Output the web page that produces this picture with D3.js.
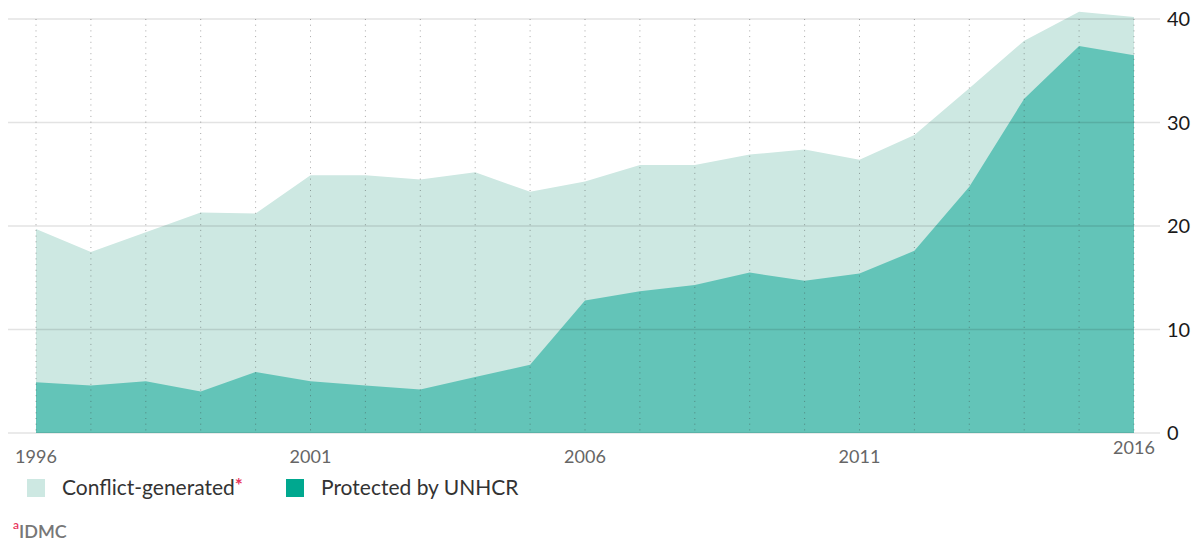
<!DOCTYPE html>
<html>
<head>
<meta charset="utf-8">
<script src="https://cdn.jsdelivr.net/npm/d3@7"></script>
<style>
  html, body { margin: 0; padding: 0; background: #fff; }
  svg { display: block; font-family: Lato, "Open Sans", sans-serif; }
</style>
</head>
<body>
<svg id="chart" width="1199" height="545"></svg>
<script>
const years = d3.range(1996, 2017);
const conflictGenerated = [19.7, 17.5, 19.4, 21.3, 21.2, 24.9, 24.9, 24.5, 25.2, 23.3, 24.3, 25.9, 25.9, 26.9, 27.4, 26.4, 28.8, 33.3, 37.9, 40.7, 40.2];
const protectedByUNHCR = [4.9, 4.6, 5.0, 4.0, 5.9, 5.0, 4.6, 4.2, 5.4, 6.6, 12.8, 13.7, 14.3, 15.5, 14.7, 15.4, 17.6, 23.8, 32.3, 37.4, 36.5];
const yTicks = [0, 10, 20, 30, 40];
const xTickLabels = [1996, 2001, 2006, 2011, 2016];
const seriesNames = ["Conflict-generated", "Protected by UNHCR"];
const seriesColors = ["#cde8e2", "#00a88f"];
const areaColors = ["#cde8e2", "#63c4b8"];

const svg = d3.select("#chart");
const x = d3.scaleLinear().domain([1996, 2016]).range([36, 1134]);
const y = d3.scaleLinear().domain([0, 40]).range([433, 19]);

const area = vals => d3.area()
  .x((d, i) => x(years[i]))
  .y0(y(0))
  .y1(d => y(d))(vals);

svg.append("path").attr("d", area(conflictGenerated)).attr("fill", areaColors[0]);
svg.append("path").attr("d", area(protectedByUNHCR)).attr("fill", areaColors[1]);

// horizontal grid
svg.append("g").selectAll("line").data(yTicks).join("line")
  .attr("x1", 8).attr("x2", 1160)
  .attr("y1", d => y(d)).attr("y2", d => y(d))
  .attr("stroke", "rgba(0,0,0,0.11)").attr("stroke-width", 1.5);

// vertical dotted lines
svg.append("g").selectAll("line").data(years).join("line")
  .attr("x1", d => x(d)).attr("x2", d => x(d))
  .attr("y1", y(40)).attr("y2", y(0))
  .attr("stroke", "rgba(60,60,60,0.45)").attr("stroke-width", 1)
  .attr("stroke-dasharray", "1,4.7");

// y labels
svg.append("g").selectAll("text").data(yTicks).join("text")
  .attr("x", 1167).attr("y", d => y(d))
  .attr("dy", "0.35em")
  .attr("font-size", 20).attr("fill", "#1a1a1a")
  .text(d => d);

// x labels
svg.append("g").selectAll("text").data(xTickLabels).join("text")
  .attr("x", d => x(d))
  .attr("y", (d, i) => i === xTickLabels.length - 1 ? 448 : 457)
  .attr("dy", "0.35em")
  .attr("text-anchor", "middle")
  .attr("font-size", 18).attr("fill", "#666")
  .text(d => d);

// legend
const lg = svg.append("g");
const legendX = [27, 286];
seriesNames.forEach((name, i) => {
  lg.append("rect").attr("x", legendX[i]).attr("y", 479).attr("width", 18).attr("height", 18)
    .attr("fill", seriesColors[i]);
  const t = lg.append("text").attr("x", legendX[i] + 35).attr("y", 488).attr("dy", "0.35em")
    .attr("font-size", 21).attr("fill", "#333").text(name);
  if (i === 0) {
    t.append("tspan").attr("fill", "#e8365d").attr("font-size", 19).attr("font-weight", 700)
      .attr("dy", "-0.2em").text("*");
  }
});

// footnote
const fn = svg.append("text").attr("x", 13).attr("y", 535).attr("dy", "0.35em")
  .attr("font-size", 18).attr("fill", "#777").attr("font-weight", 600);
fn.append("tspan").attr("fill", "#e8365d").attr("font-size", 12).attr("dy", "-0.5em").text("a");
fn.append("tspan").attr("dy", "0.5em").text("IDMC");
</script>
</body>
</html>
